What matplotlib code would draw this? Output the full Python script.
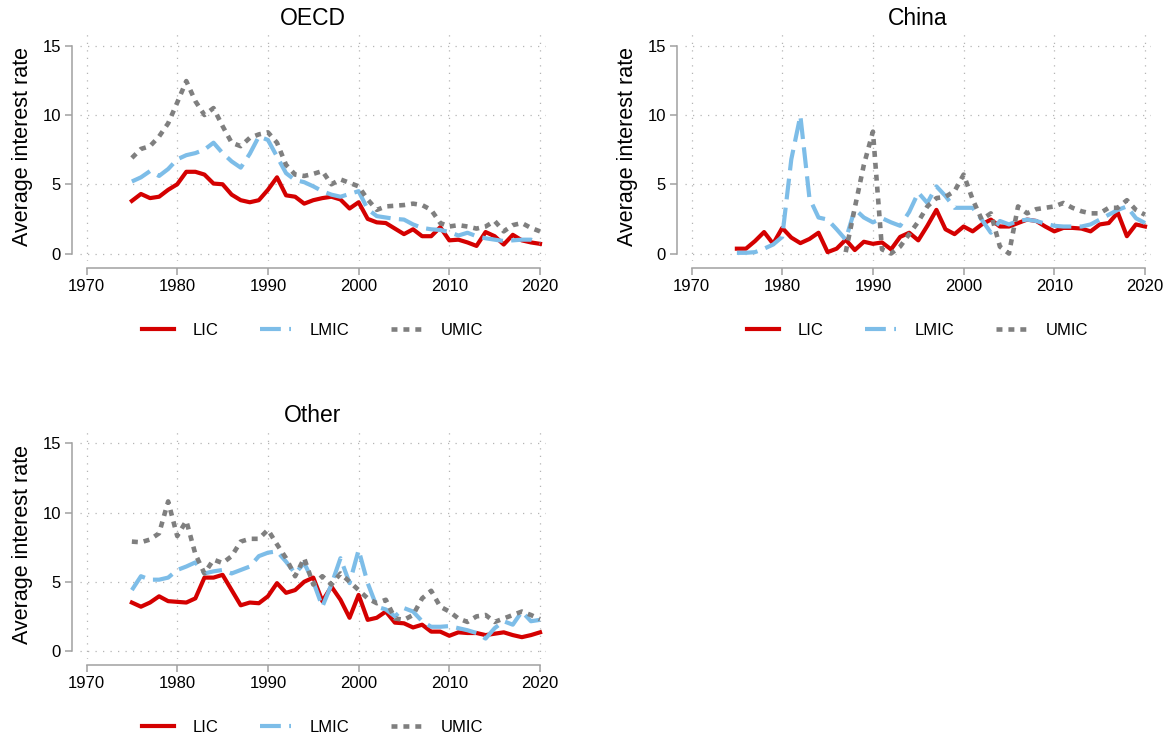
import numpy as np
import matplotlib
matplotlib.use("Agg")
import matplotlib.pyplot as plt

plt.rcParams['font.family'] = ['Liberation Sans', 'DejaVu Sans']

years = list(range(1975, 2021))
nan = float('nan')

oecd_lic = [3.8, 4.3, 4.0, 4.1, 4.6, 5.0, 5.9, 5.9, 5.7, 5.05, 5.0, 4.25, 3.85, 3.7, 3.85,
            4.6, 5.5, 4.2, 4.1, 3.6, 3.85, 4.0, 4.1, 3.9, 3.25, 3.7, 2.5, 2.25, 2.2, 1.8,
            1.4, 1.75, 1.25, 1.25, 1.9, 0.95, 1.0, 0.8, 0.55, 1.55, 1.25, 0.65, 1.35, 0.95, 0.8, 0.7]
oecd_lmic = [5.2, 5.5, 5.95, 5.6, 6.1, 6.8, 7.1, 7.25, 7.5, 8.0, 7.25, 6.65, 6.2, 7.2, 8.45,
             8.2, 7.0, 5.8, 5.3, 5.15, 4.85, 4.5, 4.25, 4.1, 4.3, 4.5, 3.2, 2.7, 2.6, 2.5,
             2.45, 2.1, 1.85, 1.75, 1.7, 1.55, 1.3, 1.5, 1.25, 1.1, 1.0, 0.9, 0.95, 1.0, 1.0, 0.75]
oecd_umic = [6.9, 7.55, 7.75, 8.45, 9.4, 10.9, 12.45, 11.0, 10.0, 10.5, 9.2, 8.0, 7.75, 8.35, 8.6,
             8.75, 8.0, 6.4, 5.7, 5.6, 5.75, 5.95, 5.0, 5.35, 5.1, 4.85, 3.9, 3.15, 3.4, 3.45,
             3.5, 3.6, 3.5, 3.15, 2.2, 1.95, 2.05, 1.95, 1.8, 1.95, 2.35, 1.6, 2.05, 2.2, 1.85, 1.6]

china_lic = [0.35, 0.35, 0.9, 1.55, 0.7, 1.85, 1.15, 0.75, 1.05, 1.5, 0.1, 0.35, 1.0, 0.25, 0.85,
             0.7, 0.8, 0.3, 1.2, 1.5, 0.95, 2.0, 3.15, 1.75, 1.4, 1.95, 1.6, 2.1, 2.45, 1.95,
             1.95, 2.2, 2.45, 2.35, 1.95, 1.6, 1.85, 1.85, 1.8, 1.6, 2.1, 2.2, 2.95, 1.25, 2.1, 1.95]
china_lmic = [0.05, 0.05, 0.1, 0.35, 0.65, 1.2, 6.8, 9.95, 4.0, 2.6, 2.45, 1.75, 1.0, 3.2, 2.6,
              2.25, 2.55, 2.25, 2.0, 3.0, 4.4, 3.65, 4.85, 4.15, 3.3, 3.3, 3.3, 2.45, 1.5, 2.35,
              2.1, 2.35, 2.45, 2.35, 2.15, 2.0, 1.95, 1.95, 1.95, 2.1, 2.45, 2.8, 3.15, 3.4, 2.55, 2.2]
china_umic = [nan, nan, nan, nan, nan, nan, nan, nan, nan, nan, nan, nan, 0.1, 3.3, 6.4,
              8.8, 0.3, 0.0, 0.5, 1.4, 2.3, 3.4, 4.0, 4.1, 4.5, 5.7, 3.9, 2.45, 2.9, 0.5,
              0.0, 3.4, 2.9, 3.2, 3.3, 3.4, 3.65, 3.3, 3.05, 2.9, 2.9, 3.3, 3.3, 3.85, 3.15, 2.8]

other_lic = [3.5, 3.2, 3.5, 3.95, 3.6, 3.55, 3.5, 3.8, 5.3, 5.3, 5.5, 4.4, 3.3, 3.5, 3.45,
             3.95, 4.9, 4.2, 4.4, 5.0, 5.3, 3.6, 4.65, 3.7, 2.4, 4.05, 2.25, 2.4, 2.85, 2.05,
             2.0, 1.7, 1.9, 1.4, 1.4, 1.1, 1.35, 1.3, 1.3, 1.15, 1.25, 1.35, 1.15, 1.0, 1.15, 1.35]
other_lmic = [4.4, 5.4, 5.15, 5.15, 5.3, 5.85, 6.1, 6.4, 5.6, 5.75, 5.85, 5.6, 5.85, 6.1, 6.85,
              7.1, 7.2, 6.45, 5.6, 6.35, 5.0, 3.2, 4.8, 6.7, 4.9, 7.3, 4.9, 3.2, 3.0, 2.5,
              3.1, 2.85, 2.15, 1.75, 1.75, 1.8, 1.65, 1.5, 1.3, 0.9, 1.65, 2.15, 1.9, 2.85, 2.15, 2.25]
other_umic = [7.9, 7.85, 8.05, 8.5, 10.8, 8.3, 9.4, 7.0, 5.6, 6.6, 6.35, 6.85, 7.9, 8.1, 8.1,
              8.75, 7.7, 6.7, 5.4, 6.7, 4.8, 5.4, 4.8, 5.6, 5.0, 4.4, 3.8, 3.45, 3.7, 2.35,
              2.25, 2.6, 3.8, 4.35, 3.2, 2.85, 2.35, 2.1, 2.5, 2.6, 2.1, 2.35, 2.6, 2.85, 2.6, 2.3]

panels = {
    "OECD": (oecd_lic, oecd_lmic, oecd_umic),
    "China": (china_lic, china_lmic, china_umic),
    "Other": (other_lic, other_lmic, other_umic),
}
series_names = ["LIC", "LMIC", "UMIC"]
x_ticks = [1970, 1980, 1990, 2000, 2010, 2020]
y_ticks = [0, 5, 10, 15]

RED = '#d40000'
BLUE = '#7dbde8'
GRAY = '#7f7f7f'
AXC = '#a0a0a0'

fig = plt.figure(figsize=(11.64, 7.38), dpi=100)
rects = {
    "OECD": [80/1164, (738-261)/738, 466/1164, 228/738],
    "China": [685/1164, (738-261)/738, 466/1164, 228/738],
    "Other": [80/1164, (738-658.5)/738, 466/1164, 228/738],
}

for name, (lic, lmic, umic) in panels.items():
    ax = fig.add_axes(rects[name])
    ax.plot(years, lic, color=RED, lw=3.0, solid_joinstyle='round', label=series_names[0])
    ax.plot(years, lmic, color=BLUE, lw=3.0, dashes=(5.0, 2.0), dash_capstyle='butt',
            label=series_names[1])
    ax.plot(years, umic, color=GRAY, lw=3.3, dashes=(1.3, 1.3), dash_capstyle='butt',
            label=series_names[2])
    ax.set_xlim(1969.28, 2020.66)
    ax.set_ylim(-0.54, 15.92)
    ax.set_xticks(x_ticks)
    ax.set_yticks(y_ticks)
    ax.grid(True, linestyle=(0, (1, 5)), color='#b5b5b5', lw=0.9)
    ax.set_axisbelow(True)
    for s in ['top', 'right']:
        ax.spines[s].set_visible(False)
    ax.spines['left'].set_position(('outward', 5.8))
    ax.spines['bottom'].set_position(('outward', 4.7))
    ax.spines['left'].set_bounds(0, 15)
    ax.spines['bottom'].set_bounds(1970, 2020)
    for s in ['left', 'bottom']:
        ax.spines[s].set_color(AXC)
        ax.spines[s].set_linewidth(1.1)
    ax.tick_params(direction='out', length=5, width=1.1, color=AXC, labelsize=12, pad=3)
    ax.set_ylabel("Average interest rate", fontsize=15.5, labelpad=7)
    ax.set_title(name, fontsize=16.5, pad=6)
    ax.legend(loc='center', bbox_to_anchor=(0.5, -0.303), ncol=3, frameon=False, fontsize=12,
              handlelength=1.9, handletextpad=1.1, columnspacing=2.5)

fig.savefig("out.png", dpi=100)
